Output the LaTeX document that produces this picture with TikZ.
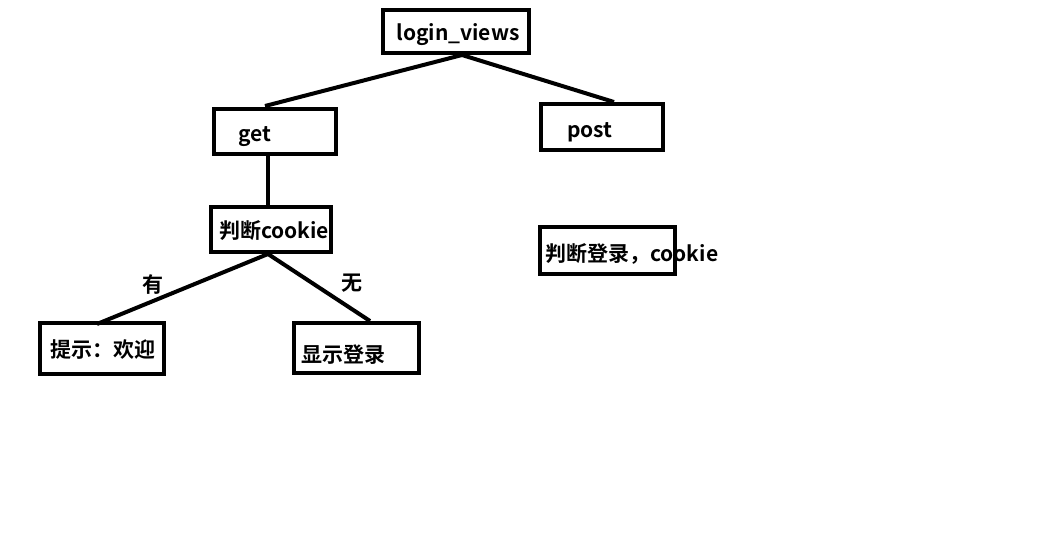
\documentclass[tikz,border=0pt]{standalone}
\usepackage{fontspec}
\setmainfont{Noto Sans CJK SC}[BoldFont={* Bold}]
\begin{document}
\begin{tikzpicture}[x=1pt,y=-1pt,
  box/.style={draw=black,line width=4pt,inner sep=0pt,fill=none},
  txt/.style={inner sep=0pt,font=\fontsize{21}{25}\selectfont\bfseries},
  conn/.style={line width=4pt}]
\useasboundingbox (0,0) rectangle (1046,536);
% boxes
\node[box,minimum width=146pt,minimum height=43pt] (lv) at (456,31.5) {};
\node[box,minimum width=122pt,minimum height=46pt] (post) at (602,127) {};
\node[box,minimum width=122pt,minimum height=45pt] (get) at (275,131.5) {};
\node[box,minimum width=120pt,minimum height=45pt] (jc) at (271,229.5) {};
\node[box,minimum width=124pt,minimum height=51pt] (ts) at (102,348.5) {};
\node[box,minimum width=125pt,minimum height=50pt] (xs) at (356.5,348) {};
\node[box,minimum width=135pt,minimum height=47pt] (jd) at (607.5,250.5) {};
% texts
\node[txt] (tlv) at (458,35) {login\_views};
\node[txt] (tpost) at (590,132) {post};
\node[txt] (tget) at (255,137) {get};
\node[txt] (tjc) at (274,231) {判断cookie};
\node[txt] (tts) at (103,350) {提示：欢迎};
\node[txt] (txs) at (343,355) {显示登录};
\node[txt,anchor=west] (tjd) at (545,254) {判断登录，cookie};
\node[txt] (you) at (153,285) {有};
\node[txt] (wu) at (352,283) {无};
% connector endpoints
\coordinate (a1) at (462,55);
\coordinate (a2) at (265,106);
\coordinate (a3) at (614,102);
\coordinate (b1) at (268,156);
\coordinate (b2) at (268,205);
\coordinate (c1) at (268,254);
\coordinate (c2) at (97,324);
\coordinate (c3) at (370,321);
\draw[conn] (a1) -- (a2);
\draw[conn] (a1) -- (a3);
\draw[conn] (b1) -- (b2);
\draw[conn] (c1) -- (c2);
\draw[conn] (c1) -- (c3);
\end{tikzpicture}
\end{document}
